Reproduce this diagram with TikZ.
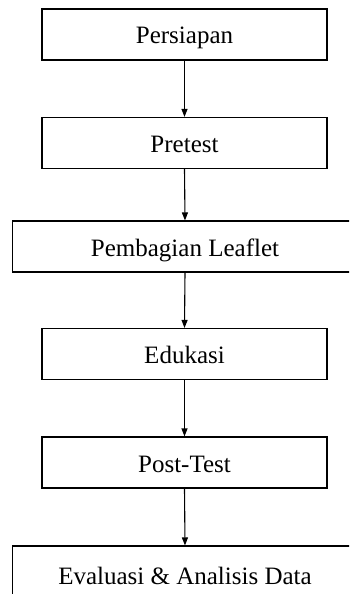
\documentclass[tikz,border=0pt]{standalone}
\usepackage{fontspec}
\setmainfont{Liberation Serif}
\usetikzlibrary{arrows.meta}
\begin{document}
\begin{tikzpicture}[x=1pt,y=-1pt,
  stepbox/.style={draw, line width=1.1pt, rectangle, inner sep=0pt, font=\fontsize{25}{30}\selectfont, text height=25pt, text depth=6pt},
  narrow/.style={stepbox, minimum width=285pt, minimum height=51pt},
  wide/.style={stepbox, minimum width=345pt},
  flow/.style={line width=1.1pt, -{Triangle[length=8pt,width=6pt]}}]
\clip (0,0) rectangle (349,594);
\fill[white] (0,0) rectangle (349,594);
\node[narrow] (a) at (184.5,34.5) {Persiapan};
\node[narrow] (b) at (184.5,143) {Pretest};
\node[wide, minimum height=51pt] (c) at (185,246.5) {Pembagian Leaflet};
\node[narrow] (d) at (184.5,354) {Edukasi};
\node[narrow] (e) at (184.5,462.5) {Post-Test};
\node[wide, minimum height=58pt] (f) at (185,575) {Evaluasi \& Analisis Data};
\draw[flow] (a.south) -- (b.north);
\draw[flow] (b.south) -- (c.north);
\draw[flow] (c.south) -- (d.north);
\draw[flow] (d.south) -- (e.north);
\draw[flow] (e.south) -- (f.north);
\end{tikzpicture}
\end{document}
